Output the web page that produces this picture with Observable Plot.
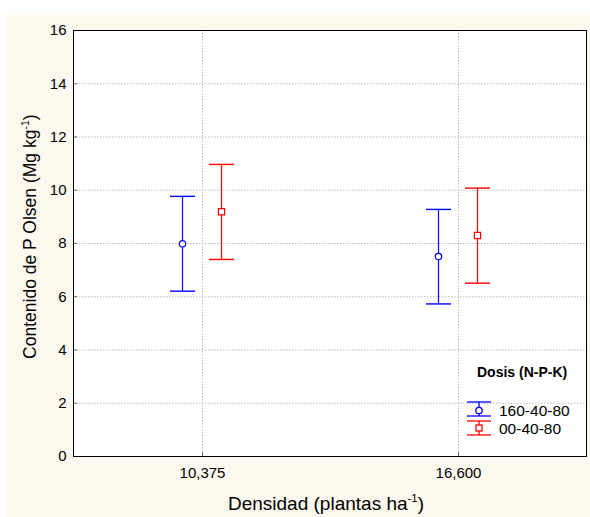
<!DOCTYPE html>
<html><head><meta charset="utf-8">
<script src="https://cdn.jsdelivr.net/npm/d3@7"></script>
<script src="https://cdn.jsdelivr.net/npm/@observablehq/plot@0.6"></script>
<style>
body{margin:0;background:#fff;font-family:"Liberation Sans",Arial,sans-serif;}
#bg{position:absolute;left:7px;top:13px;width:583px;height:504px;background:#fdf9ef;}
#chart{position:absolute;left:7px;top:13px;}
.lbl{position:absolute;color:#000;white-space:nowrap;line-height:1;}
.lbl sup{font-size:0.6em;position:relative;top:-1px;}
#legend{position:absolute;left:0;top:0;pointer-events:none;}
</style></head><body>
<div id="bg"></div>
<div id="chart"></div>
<div class="lbl" id="xt" style="left:326px;top:494px;font-size:19px;transform:translateX(-50%);">Densidad (plantas ha<sup>-1</sup>)</div>
<div class="lbl" id="yt" style="left:0;top:0;font-size:17.5px;">Contenido de P Olsen (Mg kg<sup>-1</sup>)</div>
<svg id="legend" width="590" height="517"></svg>
<script>
// ---- data ----
const categories = ["10,375", "16,600"];
const series = ["160-40-80", "00-40-80"];
const colors = ["#0000ff", "#ff0000"];
const mean160 = [7.99, 7.51];
const lower160 = [6.21, 5.73];
const upper160 = [9.77, 9.28];
const mean00 = [9.19, 8.30];
const lower00 = [7.40, 6.51];
const upper00 = [10.97, 10.08];
const yTicks = [0, 2, 4, 6, 8, 10, 12, 14, 16];

const rows160 = categories.map((c, i) => ({cat: c, series: series[0], mean: mean160[i], lo: lower160[i], hi: upper160[i]}));
const rows00 = categories.map((c, i) => ({cat: c, series: series[1], mean: mean00[i], lo: lower00[i], hi: upper00[i]}));

const cap = {draw(ctx) { ctx.moveTo(-12.5, 0); ctx.lineTo(12.5, 0); }};

function errMarks(data, color, symbol, r, dx) {
  return [
    Plot.ruleX(data, {x: "cat", y1: "lo", y2: "hi", stroke: color, strokeWidth: 1.2, dx}),
    Plot.dot(data, {x: "cat", y: "hi", symbol: cap, r: 5, stroke: color, strokeWidth: 1.4, fill: "none", dx}),
    Plot.dot(data, {x: "cat", y: "lo", symbol: cap, r: 5, stroke: color, strokeWidth: 1.4, fill: "none", dx}),
    Plot.dot(data, {x: "cat", y: "mean", symbol, r, stroke: color, strokeWidth: 1.2, fill: "white", dx})
  ];
}

const chart = Plot.plot({
  width: 583, height: 504,
  marginLeft: 66, marginTop: 17, marginRight: 4, marginBottom: 61,
  style: {fontFamily: "Liberation Sans, Arial, sans-serif", fontSize: "15px", background: "transparent", color: "black"},
  x: {type: "point", domain: categories, padding: 0.5},
  y: {domain: [0, 16]},
  marks: [
    Plot.frame({fill: "white"}),
    Plot.gridY(yTicks.slice(1, -1), {stroke: "#bdbdbd", strokeOpacity: 1, strokeDasharray: "1.5,1.5"}),
    Plot.gridX(categories, {stroke: "#bdbdbd", strokeOpacity: 1, strokeDasharray: "1.5,1.5"}),
    ...errMarks(rows160, colors[0], "circle", 3.2, -20),
    ...errMarks(rows00, colors[1], "square", 3.5, 19),
    Plot.axisY({ticks: yTicks, tickSize: -4, tickPadding: 11, label: null, stroke: "#666", fontSize: 15, fill: "black"}),
    Plot.axisX({tickSize: -4, tickPadding: 15, label: null, stroke: "#666", fontSize: 15, fill: "black"}),
    Plot.frame({stroke: "black"})
  ]
});
document.getElementById("chart").appendChild(chart);

// y title: rotate around its center placed at (30,236)
const yt = document.getElementById("yt");
const w = yt.offsetWidth, h = yt.offsetHeight;
yt.style.left = (30 - w / 2) + "px";
yt.style.top = (236 - h / 2) + "px";
yt.style.transform = "rotate(-90deg)";

// legend
const lg = d3.select("#legend");
lg.append("text").attr("x", 477).attr("y", 377).attr("font-size", 14).attr("font-weight", "bold")
  .attr("font-family", "Liberation Sans, Arial, sans-serif").text("Dosis (N-P-K)");
const items = [
  {label: series[0], color: colors[0], sym: "circle", top: 402, bot: 416, mid: 410.5, base: 415.5},
  {label: series[1], color: colors[1], sym: "square", top: 421, bot: 435, mid: 428, base: 433.5}
];
for (const it of items) {
  const g = lg.append("g").attr("stroke", it.color).attr("fill", "none").attr("stroke-width", 1.3);
  g.append("line").attr("x1", 467).attr("x2", 491).attr("y1", it.top).attr("y2", it.top);
  g.append("line").attr("x1", 467).attr("x2", 491).attr("y1", it.bot).attr("y2", it.bot);
  g.append("line").attr("x1", 479).attr("x2", 479).attr("y1", it.top).attr("y2", it.bot);
  if (it.sym === "circle") g.append("circle").attr("cx", 479).attr("cy", it.mid).attr("r", 3.2).attr("fill", "white");
  else g.append("rect").attr("x", 476).attr("y", it.mid - 3).attr("width", 6).attr("height", 6).attr("fill", "white");
  lg.append("text").attr("x", 499).attr("y", it.base).attr("font-size", 15.5)
    .attr("font-family", "Liberation Sans, Arial, sans-serif").text(it.label);
}
</script>
</body></html>
